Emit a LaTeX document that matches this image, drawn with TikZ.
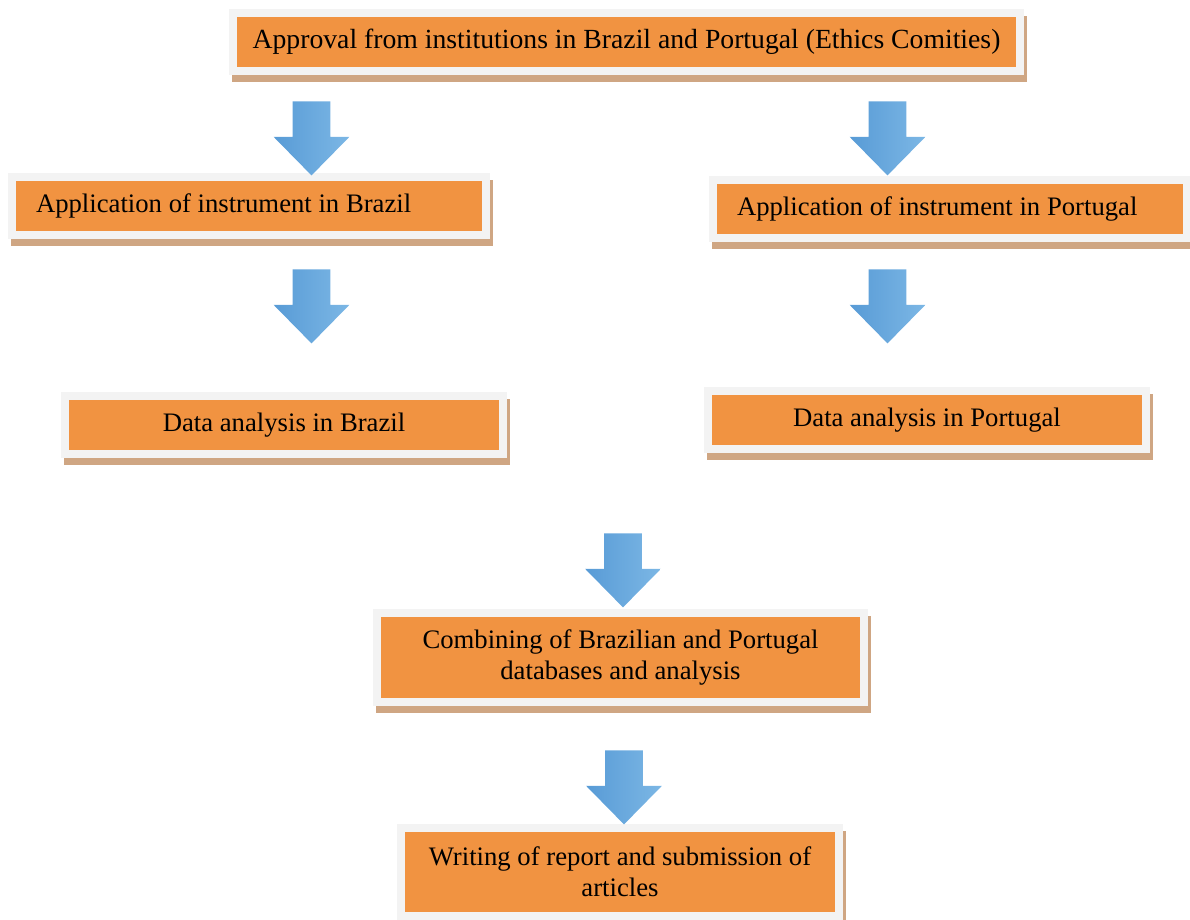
\documentclass[tikz,border=0pt]{standalone}
\usepackage{fontspec}
\setmainfont{Liberation Serif}
\usetikzlibrary{shapes.arrows, shadows}
\definecolor{StepOrange}{RGB}{241, 147, 65}
\definecolor{FrameGray}{RGB}{243, 243, 243}
\definecolor{ShadowTan}{RGB}{207, 166, 131}
\definecolor{ArrowDark}{RGB}{88, 155, 214}
\definecolor{ArrowLight}{RGB}{124, 183, 229}

\begin{document}
\begin{tikzpicture}[x=0.5pt, y=-0.5pt,
		stage/.style={draw=FrameGray, line width=4pt, fill=StepOrange, inner sep=0pt, minimum height=29pt,
			font=\fontsize{13.35}{15.5}\selectfont,
			general shadow={draw=ShadowTan, fill=ShadowTan, line width=4pt, shadow xshift=1.5pt, shadow yshift=-3.5pt}},
		blockarr/.style={single arrow, rotate=-90, anchor=tail, draw=none, inner xsep=0pt, inner ysep=9.25pt, minimum height=37pt, minimum width=37.5pt,
			single arrow head extend=9.5pt, single arrow tip angle=89, left color=ArrowDark, right color=ArrowLight}]
	\useasboundingbox (0,0) rectangle (1190,920);
	% boxes
	\node[stage, minimum width=393.5pt, font=\fontsize{13.85}{15.5}\selectfont] (approval) at (626.5,42) {Approval from institutions in Brazil and Portugal (Ethics Comities)};
	\node[stage, minimum width=237pt, text width=213pt, align=flush left] (appBR) at (249,206) {Application of instrument in Brazil};
	\node[stage, minimum width=237pt, text width=213pt, align=flush left] (appPT) at (950,209) {Application of instrument in Portugal};
	\node[stage, minimum width=219pt] (dataBR) at (284,425) {Data analysis in Brazil};
	\node[stage, minimum width=219pt] (dataPT) at (927,420) {Data analysis in Portugal};
	\node[stage, minimum width=243.5pt, minimum height=44.5pt, align=center] (combine) at (620.5,657) {Combining of Brazilian and Portugal\\databases and analysis};
	\node[stage, minimum width=219pt, minimum height=44pt, align=center] (writing) at (620,872) {Writing of report and submission of\\articles};
	% arrows (tail at top)
	\foreach \n/\x/\y in {a1/311.5/101, a2/887.5/101, a3/311.5/269, a4/887.5/269, a5/623/533, a6/624/750}{
		\node[blockarr] (\n) at (\x,\y) {};
	}
\end{tikzpicture}
\end{document}
